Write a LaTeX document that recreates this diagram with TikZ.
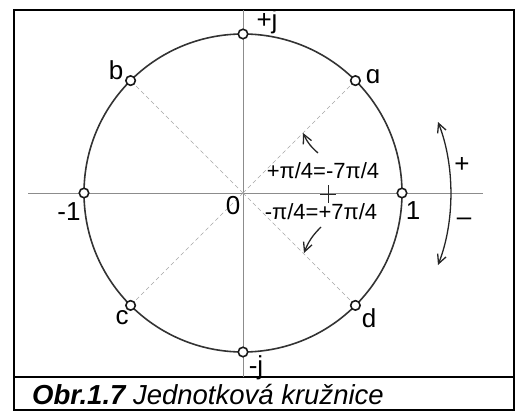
\documentclass[tikz,border=0pt]{standalone}
\usepackage{fontspec}
\setmainfont{Liberation Sans}
\usetikzlibrary{calc, arrows.meta}

\begin{document}
\begin{tikzpicture}[
    x=1pt, y=-1pt,
    % styles of lines
    frame line/.style={line width=2.2pt, black},
    axis line/.style={line width=0.9pt, black!45},
    unit circle/.style={line width=1.6pt, black!80},
    diag line/.style={dash pattern=on 4pt off 3pt, line width=0.7pt, black!35},
    turn arrow/.style={line width=1.3pt, black!85, -{Straight Barb[length=9pt, width=9pt]}},
    % styles of nodes
    ring dot/.style={circle, draw=black!90, fill=white, line width=1.6pt, inner sep=0pt, minimum size=9.5pt},
    big label/.style={font=\fontsize{26}{26}\selectfont, inner sep=0pt},
    angle label/.style={font=\fontsize{22}{22}\selectfont, inner sep=0pt},
    caption text/.style={font=\fontsize{27.5}{28}\selectfont\itshape, inner sep=0pt, anchor=west}
]
    \useasboundingbox (0,0) rectangle (517,412);

    % ------------------------------------------------------------
    % points
    % ------------------------------------------------------------
    \coordinate (O) at (243,193);
    \coordinate (p1) at (402,193);    % 1
    \coordinate (m1) at (84,193);     % -1
    \coordinate (pj) at (243,34);     % +j
    \coordinate (mj) at (243,352);    % -j
    \coordinate (a) at (355.4,80.6);
    \coordinate (b) at (130.6,80.6);
    \coordinate (c) at (130.6,305.4);
    \coordinate (d) at (355.4,305.4);

    % axis ends
    \coordinate (xl) at (28,193);
    \coordinate (xr) at (483,193);
    \coordinate (yt) at (243,10);
    \coordinate (yb) at (243,377);

    % ------------------------------------------------------------
    % frame
    % ------------------------------------------------------------
    \draw[frame line] (14,10) rectangle (514,410);
    \draw[frame line] (14,377) -- (514,377);

    % ------------------------------------------------------------
    % axes, diagonals, circle
    % ------------------------------------------------------------
    \draw[axis line] (xl) -- (xr);
    \draw[axis line] (yt) -- (yb);

    \foreach \p in {a, b, c, d} {
        \draw[diag line] (O) -- (\p);
    }

    \draw[unit circle] (O) circle (159pt);

    % dots on the circle
    \foreach \p in {p1, m1, pj, mj, a, b, c, d} {
        \node[ring dot] (\p dot) at (\p) {};
    }

    % ------------------------------------------------------------
    % labels
    % ------------------------------------------------------------
    \node[big label] (lpj) at (267,22) {+j};
    \node[big label] (lmj) at (256,368) {-j};
    \node[big label] (lp1) at (413,211) {1};
    \node[big label] (lm1) at (69,212) {-1};
    \node[big label] (lO) at (233,206) {0};
    \node[big label] (la) at (373,77) {ɑ};
    \node[big label] (lb) at (116,70) {b};
    \node[big label] (lc) at (122,318) {c};
    \node[big label] (ld) at (369,318) {d};

    % angles
    \node[angle label] (lplus) at (323,171) {+π/4=-7π/4};
    \node[angle label] (lminus) at (321,212) {-π/4=+7π/4};
    \coordinate (mark) at (328,194);
    \draw[line width=1pt, black!85] ($(mark)+(-8,0)$) -- ($(mark)+(8,0)$)
        ($(mark)+(0,-9)$) -- ($(mark)+(0,9)$);

    \coordinate (up tail) at (318,153);
    \coordinate (up head) at (303,133);
    \coordinate (dn tail) at (321,227);
    \coordinate (dn head) at (304,253);
    \draw[turn arrow] (up tail) to[bend left=12] (up head);
    \draw[turn arrow] (dn tail) to[bend right=12] (dn head);

    % direction of rotation
    \coordinate (rot top) at (438,122);
    \coordinate (rot bot) at (438,265);
    \draw[turn arrow, {Straight Barb[length=9pt, width=9pt]}-{Straight Barb[length=9pt, width=9pt]}]
        (rot top) .. controls (455,165) and (455,222) .. (rot bot);
    \node[big label] (lsplus) at (462,165) {+};
    \node[big label] (lsminus) at (464,222) {–};

    % caption
    \node[caption text] (cap) at (32,395) {\textbf{Obr.1.7} Jednotková kružnice};
\end{tikzpicture}
\end{document}
